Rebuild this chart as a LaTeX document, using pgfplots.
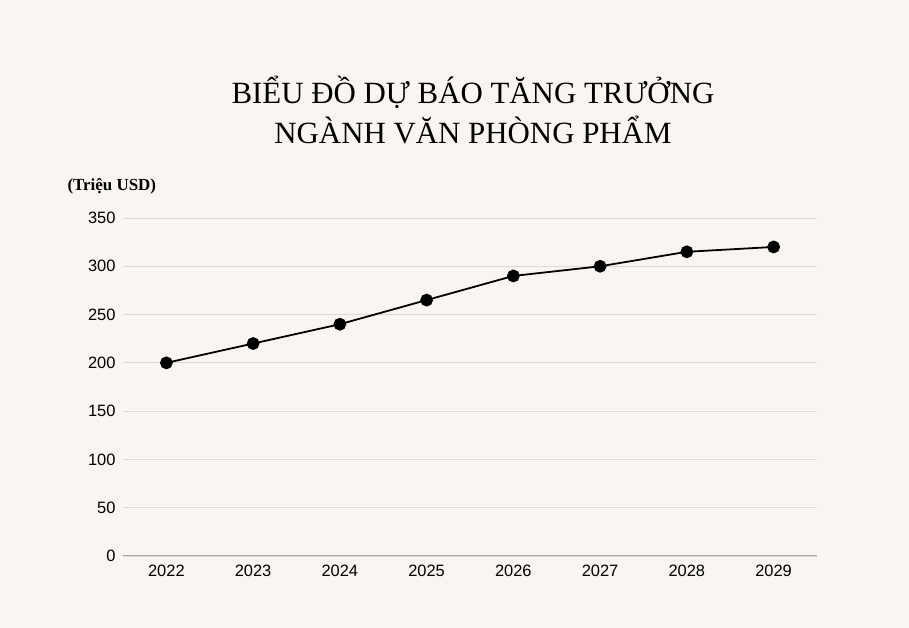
\documentclass[border=0pt]{standalone}
\usepackage{fontspec}
\setmainfont{Liberation Serif}
\newfontfamily\sans{Liberation Sans}
\usepackage{pgfplots}
\pgfplotsset{compat=1.18}
\definecolor{bg}{HTML}{F9F6F2}
\definecolor{gridc}{HTML}{DDD9D4}
\definecolor{axc}{HTML}{A8A6A3}
\begin{document}
\begin{tikzpicture}[x=1bp,y=1bp]
\fill[bg] (0,0) rectangle (909,628);
\useasboundingbox (0,0) rectangle (909,628);
\node[font=\fontsize{31}{40}\selectfont, align=center] at (473,518) {BIỂU ĐỒ DỰ BÁO TĂNG TRƯỞNG\\NGÀNH VĂN PHÒNG PHẨM};
\node[font=\fontsize{17}{20}\selectfont\bfseries, anchor=west] at (64,442) {(Triệu USD)};
\begin{axis}[
  at={(123bp,72bp)}, anchor=south west,
  scale only axis, width=694bp, height=338bp,
  xmin=2021.5, xmax=2029.5, ymin=0, ymax=350,
  xtick={2022,...,2029}, ytick={0,50,...,350},
  xticklabel style={/pgf/number format/1000 sep={}, font=\sans\fontsize{16.5}{18}\selectfont, yshift=-6bp},
  yticklabel style={font=\sans\fontsize{16.5}{18}\selectfont, xshift=-4bp},
  /pgf/number format/assume math mode=true,
  axis x line*=bottom, axis y line*=left,
  x axis line style={axc, line width=1pt, -},
  y axis line style={draw=none},
  ymajorgrids, grid style={gridc, line width=0.8pt},
  major tick length=0pt,
  tick style={draw=none},
  clip=false,
]
\addplot[black, line width=1.8pt, mark=*, mark size=5.5pt, mark options={fill=black}] coordinates {
(2022,200) (2023,220) (2024,240) (2025,265) (2026,290) (2027,300) (2028,315) (2029,320)};
\end{axis}
\end{tikzpicture}
\end{document}
